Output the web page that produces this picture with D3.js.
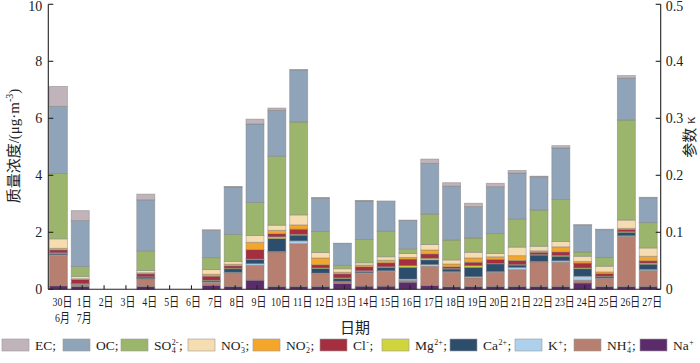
<!DOCTYPE html>
<html><head><meta charset="utf-8">
<script src="https://cdn.jsdelivr.net/npm/d3@7"></script>
<style>body{margin:0;background:#fff}svg{display:block}text{font-family:"Liberation Serif","Noto Sans CJK SC",serif;fill:#222}</style>
</head><body><svg id="c" width="700" height="363"></svg>
<script>
const days = ["30日","1日","2日","3日","4日","5日","6日","7日","8日","9日","10日","11日","12日","13日","14日","15日","16日","17日","18日","19日","20日","21日","22日","23日","24日","25日","26日","27日"];
const months = ["6月","7月"];
const leftTicks = [0,2,4,6,8,10];
const rightTicks = [0,0.1,0.2,0.3,0.4,0.5];
// values per day (μg·m-3), stacked from bottom: Na, NH4, K, Ca, Mg, Cl, NO2, NO3, SO4, OC, EC
const Na  = [0.12,0.10,0,0,0.10,0,0,0.14,0.10,0.32,0.10,0.10,0.10,0.20,0.11,0.11,0.25,0.13,0.09,0.10,0.10,0.10,0.10,0.10,0.22,0.10,0.10,0.10];
const NH4 = [1.07,0.08,0,0,0.27,0,0,0.10,0.48,0.52,1.21,1.50,0.45,0.06,0.45,0.52,0.06,0.68,0.51,0.30,0.50,0.59,0.86,0.85,0.10,0.29,1.76,0.56];
const K   = [0.02,0.01,0,0,0.01,0,0,0.02,0.02,0.06,0.02,0.10,0.02,0.02,0.02,0.02,0.05,0.06,0.02,0.04,0.02,0.08,0.02,0.05,0.14,0.01,0.02,0.04];
const Ca  = [0.05,0.02,0,0,0.05,0,0,0.04,0.12,0.14,0.45,0.20,0.16,0.10,0.05,0.12,0.41,0.16,0.09,0.33,0.27,0.08,0.22,0.16,0.26,0.05,0.12,0.18];
const Mg  = [0.02,0.00,0,0,0.01,0,0,0.02,0.02,0.02,0.06,0.03,0.02,0.02,0.02,0.02,0.06,0.06,0.02,0.06,0.02,0.02,0.02,0.03,0.03,0.01,0.02,0.04];
const Cl  = [0.10,0.13,0,0,0.10,0,0,0.14,0.08,0.33,0.11,0.18,0.11,0.14,0.14,0.14,0.23,0.15,0.06,0.12,0.14,0.14,0.08,0.12,0.17,0.09,0.08,0.08];
const NO2 = [0.06,0.03,0,0,0.04,0,0,0.07,0.06,0.26,0.12,0.15,0.24,0.06,0.06,0.09,0.06,0.14,0.10,0.15,0.09,0.17,0.05,0.18,0.06,0.06,0.04,0.16];
const NO3 = [0.33,0.08,0,0,0.08,0,0,0.16,0.10,0.24,0.18,0.35,0.19,0.12,0.08,0.12,0.14,0.19,0.14,0.20,0.12,0.30,0.16,0.19,0.18,0.20,0.29,0.29];
const SO4 = [2.29,0.35,0,0,0.69,0,0,0.42,0.95,1.16,2.42,3.26,0.74,0.12,0.82,0.90,0.16,1.07,0.70,0.50,0.70,0.99,1.27,1.47,0.15,0.31,3.51,0.89];
const OC  = [2.36,1.61,0,0,1.79,0,0,0.96,1.66,2.75,1.61,1.82,1.17,0.76,1.35,1.04,0.99,1.78,1.89,1.10,1.64,1.61,1.17,1.81,0.94,0.97,1.47,0.87];
const EC  = [0.70,0.35,0,0,0.20,0,0,0.02,0.02,0.17,0.08,0.02,0.02,0.02,0.02,0.02,0.02,0.15,0.12,0.12,0.12,0.09,0.02,0.08,0.02,0.02,0.09,0.02];

// label parts: [base, sup, sub, tail]
const species = [
  {key:"Na",  vals:Na,  color:"#5b2b6b", label:["Na","+","",""]},
  {key:"NH4", vals:NH4, color:"#b77f6f", label:["NH","+","4",";"]},
  {key:"K",   vals:K,   color:"#add0ec", label:["K","+","",";"]},
  {key:"Ca",  vals:Ca,  color:"#2d4d6c", label:["Ca","2+","",";"]},
  {key:"Mg",  vals:Mg,  color:"#d0d43d", label:["Mg","2+","",";"]},
  {key:"Cl",  vals:Cl,  color:"#a32f40", label:["Cl","-","",";"]},
  {key:"NO2", vals:NO2, color:"#f4a62a", label:["NO","-","2",";"]},
  {key:"NO3", vals:NO3, color:"#f6dcb1", label:["NO","-","3",";"]},
  {key:"SO4", vals:SO4, color:"#9cb56c", label:["SO","2-","4",";"]},
  {key:"OC",  vals:OC,  color:"#8fa4b8", label:["OC;","","",""]},
  {key:"EC",  vals:EC,  color:"#c0b3b9", label:["EC;","","",""]}
];
// legend swatch left edges (EC ... Na)
const legendX = [2,63,121,188,253,320,382,450,515,574,640];

const svg = d3.select("#c");
const L = 48.3, R = 660.7, T = 4.3, B = 289.3;
const x = d3.scaleBand().domain(days).range([L, 658.3]).paddingInner(0.176).paddingOuter(0.05);
const y = d3.scaleLinear().domain([0,10]).range([B, T]);
const y2 = d3.scaleLinear().domain([0,0.5]).range([B, T]);

const table = days.map((d,i)=>{const o={day:d}; species.forEach(s=>o[s.key]=s.vals[i]); return o;});
const stack = d3.stack().keys(species.map(s=>s.key))(table);

const g = svg.append("g");
stack.forEach((layer,li)=>{
  g.selectAll(null).data(layer.filter(d=>d[1]-d[0]>0)).join("rect")
   .attr("x", d=>x(d.data.day)).attr("width", x.bandwidth())
   .attr("y", d=>y(d[1])).attr("height", d=>y(d[0])-y(d[1]))
   .attr("fill", species[li].color)
   .attr("stroke","#7d7d7d").attr("stroke-opacity",0.55).attr("stroke-width",0.8);
});

// axes
const fs = 14;
const ax = svg.append("g").attr("stroke","#222").attr("stroke-width",1.1).attr("fill","none");
ax.append("line").attr("x1",L).attr("x2",L).attr("y1",T).attr("y2",B);
ax.append("line").attr("x1",R).attr("x2",R).attr("y1",T).attr("y2",B);
ax.append("line").attr("x1",L).attr("x2",R).attr("y1",B).attr("y2",B);
leftTicks.forEach(t=>{
  ax.append("line").attr("x1",L).attr("x2",L+5).attr("y1",y(t)).attr("y2",y(t));
  svg.append("text").attr("x",L-6).attr("y",Math.max(y(t),6)).attr("dy","0.35em").attr("text-anchor","end").attr("font-size",fs).text(t);
});
rightTicks.forEach(t=>{
  ax.append("line").attr("x1",R-5).attr("x2",R).attr("y1",y2(t)).attr("y2",y2(t));
  svg.append("text").attr("x",R+5).attr("y",Math.max(y2(t),6)).attr("dy","0.35em").attr("text-anchor","start").attr("font-size",fs).text(t);
});
days.forEach((d,i)=>{
  const cx = x(d)+x.bandwidth()/2;
  ax.append("line").attr("x1",cx+2).attr("x2",cx+2).attr("y1",B).attr("y2",B-4);
  svg.append("text").attr("transform",`translate(${cx+4},306) scale(0.76,1)`).attr("text-anchor","middle").attr("font-size",13).text(d);
  if(i<2) svg.append("text").attr("transform",`translate(${cx+4},322) scale(0.76,1)`).attr("text-anchor","middle").attr("font-size",13).text(months[i]);
});

// axis titles
const lt = svg.append("text").attr("transform","translate(19,146) rotate(-90)").attr("text-anchor","middle").attr("font-size",15);
lt.append("tspan").text("质量浓度/(μg·m");
lt.append("tspan").attr("dy",-6).attr("font-size",10).text("-3");
lt.append("tspan").attr("dy",6).text(")");
svg.append("text").attr("transform","translate(695,137) rotate(-90)").attr("text-anchor","middle").attr("font-size",15).text("参数 κ");
svg.append("text").attr("x",355).attr("y",333).attr("text-anchor","middle").attr("font-size",15).text("日期");

// legend (one text element per item, sup/sub stacked via tspans)
const lg = svg.append("g");
const ly = 350;
species.slice().reverse().forEach((s,i)=>{
  const sx = legendX[i];
  lg.append("rect").attr("x",sx).attr("y",339).attr("width",27).attr("height",12)
    .attr("fill",s.color).attr("stroke","#999").attr("stroke-width",0.6);
  const [base, sup, sub, tail] = s.label;
  const t = lg.append("text").attr("x",sx+33).attr("y",ly).attr("font-size",13.5);
  t.append("tspan").text(base);
  let supW = 0, subW = 0;
  if(sup){ const ts = t.append("tspan").attr("dx",0.5).attr("dy",-5.5).attr("font-size",8).text(sup); supW = ts.node().getComputedTextLength(); }
  if(sub){ const tu = t.append("tspan").attr("dx",-supW).attr("dy",sup?8:2.5).attr("font-size",8).text(sub); subW = tu.node().getComputedTextLength(); }
  if(tail){
    const extra = sub ? Math.max(0, supW - subW) : 0;
    t.append("tspan").attr("dx",extra+0.5).attr("dy",sub? -2.5 : (sup?5.5:0)).attr("font-size",13.5).text(tail);
  }
});
</script></body></html>
